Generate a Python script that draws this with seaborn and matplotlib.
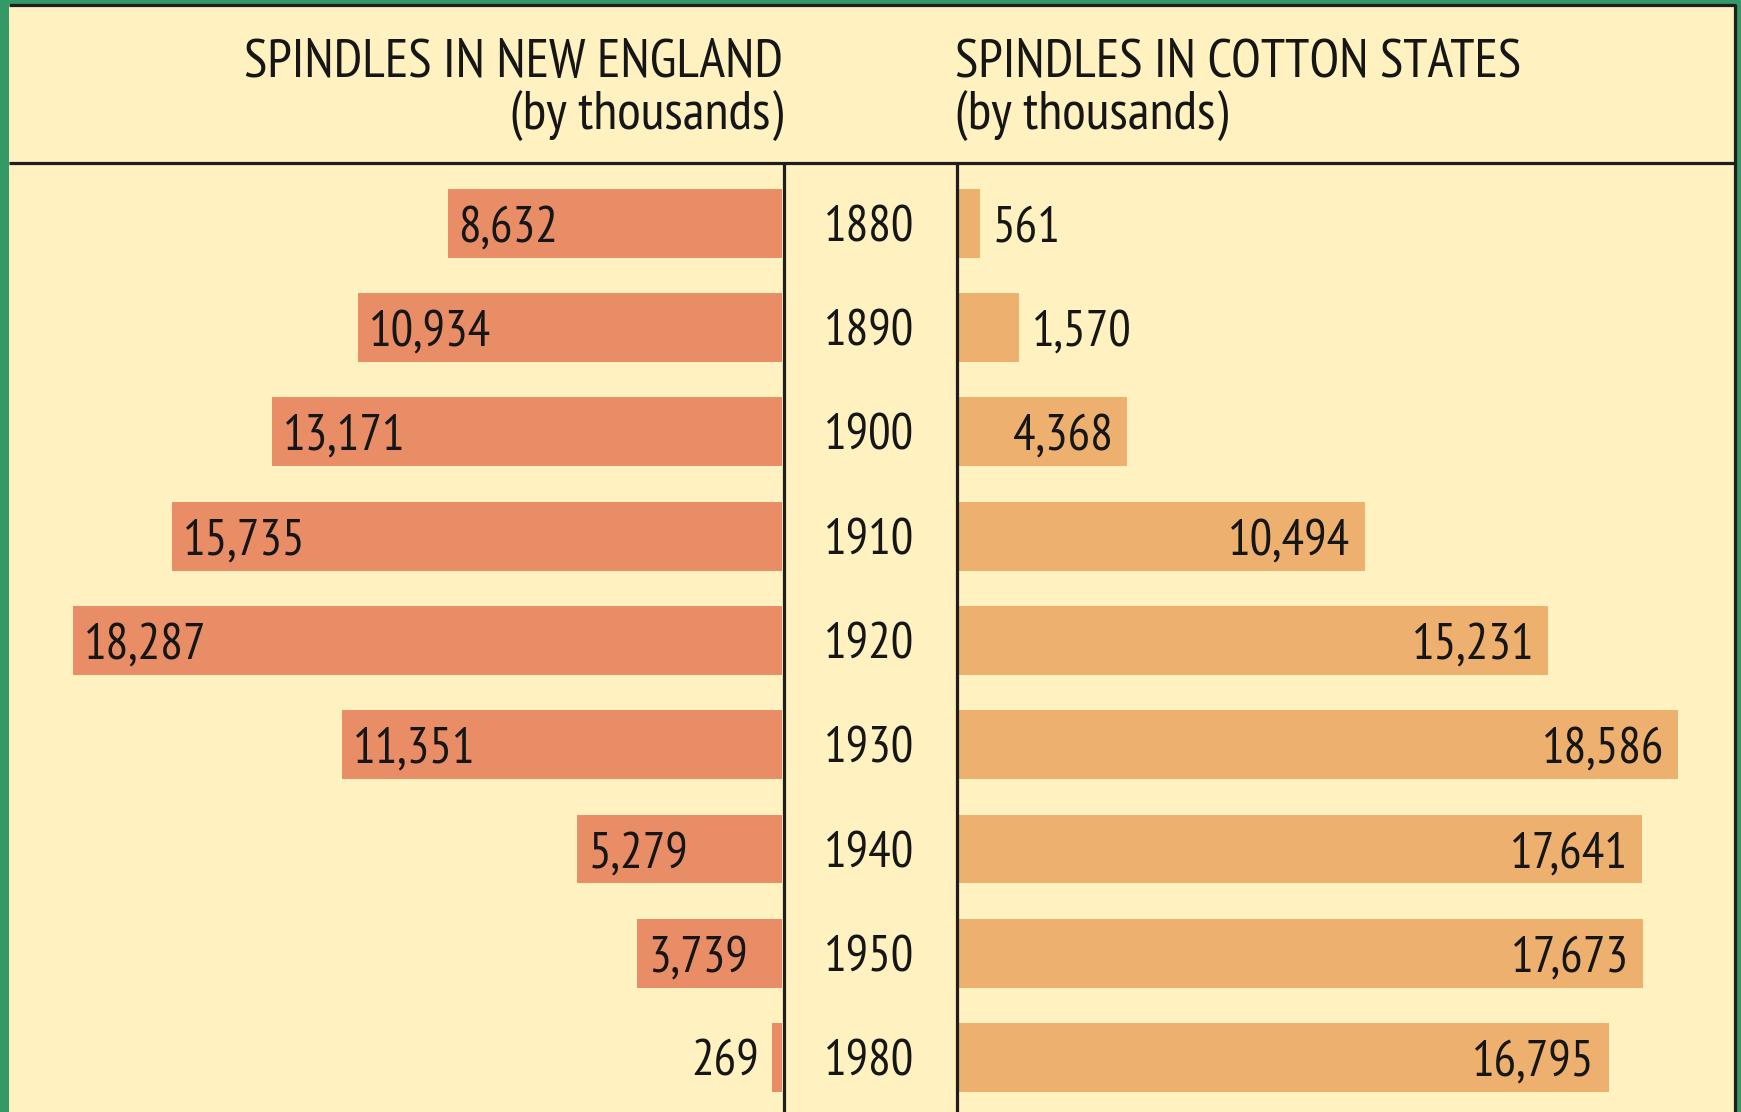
import matplotlib
matplotlib.use("Agg")
import matplotlib.pyplot as plt
import matplotlib.transforms as mtransforms
from matplotlib import font_manager
from matplotlib.font_manager import FontProperties
from matplotlib.textpath import TextPath
from matplotlib.lines import Line2D
from matplotlib.patches import Rectangle
import seaborn as sns
import pandas as pd

# ---------------- data ----------------
years = ["1880", "1890", "1900", "1910", "1920", "1930", "1940", "1950", "1980"]
new_england = [8632, 10934, 13171, 15735, 18287, 11351, 5279, 3739, 269]
cotton_states = [561, 1570, 4368, 10494, 15231, 18586, 17641, 17673, 16795]
left_title = ["SPINDLES IN NEW ENGLAND", "(by thousands)"]
right_title = ["SPINDLES IN COTTON STATES", "(by thousands)"]

# ---------------- style ----------------
W, H, DPI = 1741, 1112, 100
GREEN = "#339966"
CREAM = "#FFF1C0"
LEFT_C = "#E98D66"
RIGHT_C = "#EDB06E"
DARK = "#1e1e1e"
TXT = "#161616"

sns.set_theme(style="white")
names = {f.name for f in font_manager.fontManager.ttflist}
for cand in ["PT Sans Narrow", "Roboto Condensed", "Archivo Narrow", "Liberation Sans Narrow"]:
    if cand in names:
        FAM = [cand, "DejaVu Sans"]
        break
else:
    FAM = ["DejaVu Sans"]
plt.rcParams["font.family"] = FAM
PROP = FontProperties(family=FAM[0])


def ink(s, size_pt):
    """ink width/height in pixels of string s at size_pt"""
    ext = TextPath((0, 0), s, size=size_pt * DPI / 72, prop=PROP).get_extents()
    return ext.width, ext.height


def fit(s, w_px=None, h_px=None, base=30):
    w, h = ink(s, base)
    sizes = []
    if w_px:
        sizes.append(base * w_px / w)
    if h_px:
        sizes.append(base * h_px / h)
    out = 1.0
    for v in sizes:
        out *= v
    return out ** (1 / len(sizes))


FS_NUM = fit("1880", w_px=84, h_px=37)
FS_HEAD = fit(left_title[0], w_px=569, h_px=37)
NUM_H = ink("1880", FS_NUM)[1]  # digit height px

fig = plt.figure(figsize=(W / DPI, H / DPI), dpi=DPI, facecolor=GREEN)


def fx(px):
    return px / W


def fy(py):
    return 1 - py / H


# cream panel
fig.add_artist(Rectangle((fx(9), 0), fx(1737) - fx(9), fy(3.5), transform=fig.transFigure,
                         facecolor=CREAM, edgecolor="none", zorder=0))

# axes geometry (pixels)
top_px, bot_px = 163, 1112
row0_c, row_sp = 223.2, 104.3
y_top = 0 - (row0_c - top_px) / row_sp
y_bot = (len(years) - 1) + (bot_px - (row0_c + row_sp * (len(years) - 1))) / row_sp
scale = 0.03875  # px per thousand

l_left, l_right = 9, 782
r_left, r_right = 958, 1734

axL = fig.add_axes([fx(l_left), fy(bot_px), fx(l_right) - fx(l_left), fy(top_px) - fy(bot_px)])
axR = fig.add_axes([fx(r_left), fy(bot_px), fx(r_right) - fx(r_left), fy(top_px) - fy(bot_px)])

dfL = pd.DataFrame({"year": years, "value": new_england})
dfR = pd.DataFrame({"year": years, "value": cotton_states})

sns.barplot(data=dfL, x="value", y="year", orient="h", color=LEFT_C, saturation=1,
            width=0.66, linewidth=0, ax=axL)
sns.barplot(data=dfR, x="value", y="year", orient="h", color=RIGHT_C, saturation=1,
            width=0.66, linewidth=0, ax=axR)

axL.set_xlim((l_right - l_left) / scale, 0)
axR.set_xlim(0, (r_right - r_left) / scale)
for ax in (axL, axR):
    ax.set_ylim(y_bot, y_top)
    ax.set_facecolor("none")
    ax.set_xlabel("")
    ax.set_ylabel("")
    ax.set_xticks([])
    ax.set_yticks([])
    for s in ax.spines.values():
        s.set_visible(False)

num_kw = dict(fontsize=FS_NUM, color=TXT, family=FAM)
head_kw = dict(fontsize=FS_HEAD, color=TXT, family=FAM)
BASE_OFF = -(NUM_H / 2) * 72 / DPI  # points from row centre to baseline
PAD_IN = 11 * 72 / DPI
PAD_OUT = 13 * 72 / DPI

# value labels, left
for i, v in enumerate(new_england):
    bar_px = v * scale
    lab = f"{v:,}"
    if bar_px > 100:
        axL.annotate(lab, (v, i), xytext=(PAD_IN, BASE_OFF), textcoords="offset points",
                     ha="left", va="baseline", **num_kw)
    else:
        axL.annotate(lab, (v, i), xytext=(-PAD_OUT, BASE_OFF), textcoords="offset points",
                     ha="right", va="baseline", **num_kw)

# value labels, right
for i, v in enumerate(cotton_states):
    bar_px = v * scale
    lab = f"{v:,}"
    if bar_px > 120:
        axR.annotate(lab, (v, i), xytext=(-14 * 72 / DPI, BASE_OFF), textcoords="offset points",
                     ha="right", va="baseline", **num_kw)
    else:
        axR.annotate(lab, (v, i), xytext=(PAD_OUT, BASE_OFF),
                     textcoords="offset points", ha="left", va="baseline", **num_kw)

# year labels in centre column
blend = mtransforms.blended_transform_factory(fig.transFigure, axL.transData)
for i, yr in enumerate(years):
    axL.annotate(yr, (fx(869.5), i), xycoords=blend, xytext=(0, BASE_OFF),
                 textcoords="offset points", ha="center", va="baseline",
                 annotation_clip=False, **num_kw)

# headers
fig.text(fx(783), fy(76.5), left_title[0], ha="right", va="baseline", **head_kw)
fig.text(fx(783), fy(128.5), left_title[1], ha="right", va="baseline", **head_kw)
fig.text(fx(955), fy(76.5), right_title[0], ha="left", va="baseline", **head_kw)
fig.text(fx(955), fy(128.5), right_title[1], ha="left", va="baseline", **head_kw)

# rules
LW = 2.3
lines = [
    ((9, 1736), (5, 5)),
    ((9, 1736), (163, 163)),
    ((1735, 1735), (4, 1112)),
    ((783.5, 783.5), (163, 1112)),
    ((956.5, 956.5), (163, 1112)),
]
for (x0, x1), (y0, y1) in lines:
    fig.add_artist(Line2D([fx(x0), fx(x1)], [fy(y0), fy(y1)], transform=fig.transFigure,
                          color=DARK, linewidth=LW, solid_capstyle="butt", zorder=5))

fig.savefig("out.png", dpi=DPI, facecolor=GREEN)
